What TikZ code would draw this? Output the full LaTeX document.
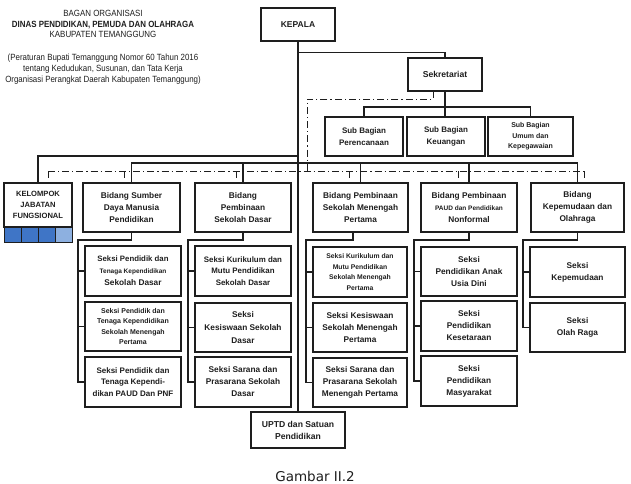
\documentclass[tikz,border=0pt]{standalone}
\usepackage{fontspec}
\setmainfont{Liberation Sans}
\newfontfamily\narrowfont[FakeStretch=0.88]{Liberation Sans}
\newfontfamily\capfont{DejaVu Sans}
\usetikzlibrary{calc}
\definecolor{ink}{HTML}{1E1E1E}
\definecolor{cellblue}{HTML}{3F75C6}
\definecolor{celllight}{HTML}{8DB0E0}
\tikzset{
  box/.style={draw=ink, line width=1.1pt, rectangle, inner sep=0pt, align=center,
    font=\bfseries\fontsize{8.3}{12}\selectfont, text=ink},
  conn/.style={draw=ink, line width=1.1pt},
  dd/.style={draw=ink, line width=0.9pt, dash pattern=on 7pt off 3pt on 1.2pt off 3pt},
  cell/.style={draw=ink, line width=0.9pt, fill=cellblue, minimum width=17pt, minimum height=15pt, inner sep=0pt},
}
\newcommand{\bx}[7][]{\node[box,minimum width={(#5-#3)*1pt},minimum height={(#6-#4)*1pt},#1] (#2) at ({(#3+#5)/2},{(#4+#6)/2}) {#7};}
\newcommand{\fz}[2]{\fontsize{#1}{#2}\selectfont}
\begin{document}
\begin{tikzpicture}[x=1pt,y=-1pt]
\useasboundingbox (0,0) rectangle (631,483);
% title
\node[align=center, font=\narrowfont\fz{9}{10.6}, text=ink] (t1) at (103,24)
  {BAGAN ORGANISASI\\{\bfseries DINAS PENDIDIKAN, PEMUDA DAN OLAHRAGA}\\KABUPATEN TEMANGGUNG};
\node[align=center, font=\narrowfont\fz{9}{11}, text=ink] (t2) at (103,69)
  {(Peraturan Bupati Temanggung Nomor 60 Tahun 2016\\tentang Kedudukan, Susunan, dan Tata Kerja\\Organisasi Perangkat Daerah Kabupaten Temanggung)};
% top
\bx[line width=2.2pt,font=\bfseries\fz{8.5}{12}]{kepala}{261}{8}{335}{41}{KEPALA}
\bx[font=\bfseries\fz{8.6}{12}]{sek}{408}{58}{482}{91}{Sekretariat}
\bx[font=\bfseries\fz{8}{12}]{sb1}{325}{117}{403}{156}{Sub Bagian\\Perencanaan}
\bx[font=\bfseries\fz{8}{12}]{sb2}{407}{117}{485}{156}{Sub Bagian\\Keuangan}
\bx[font=\bfseries\fz{7}{10.5}]{sb3}{488}{117}{573}{156}{Sub Bagian\\Umum dan\\Kepegawaian}
% bidang
\bx[font=\bfseries\fz{7.6}{11}]{kel}{4}{183}{72}{227}{KELOMPOK\\JABATAN\\FUNGSIONAL}
\node[cell] (c1) at (12.5,234.5) {};
\node[cell] (c2) at (29.5,234.5) {};
\node[cell] (c3) at (46.5,234.5) {};
\node[cell,fill=celllight] (c4) at (63.5,234.5) {};
\bx{b1}{83}{183}{180}{232}{Bidang Sumber\\Daya Manusia\\Pendidikan}
\bx{b2}{195}{183}{291}{232}{Bidang\\Pembinaan\\Sekolah Dasar}
\bx{b3}{313}{183}{408}{232}{Bidang Pembinaan\\Sekolah Menengah\\Pertama}
\bx{b4}{421}{183}{517}{232}{Bidang Pembinaan\\{\fz{6.5}{11}PAUD dan Pendidikan}\\Nonformal}
\bx{b5}{531}{183}{624}{232}{Bidang\\Kepemudaan dan\\Olahraga}
% seksi col 1
\bx{s11}{85}{246}{181}{296}{{\fz{7.8}{11}Seksi Pendidik dan}\\{\fz{6.5}{11}Tenaga Kependidikan}\\Sekolah Dasar}
\bx[font=\bfseries\fz{7}{10.4}]{s12}{85}{302}{181}{351}{Seksi Pendidik dan\\Tenaga Kependidikan\\Sekolah Menengah\\Pertama}
\bx[font=\bfseries\fz{8}{11.5}]{s13}{85}{357}{181}{407}{Seksi Pendidik dan\\Tenaga Kependi-\\dikan PAUD Dan PNF}
% col 2
\bx[font=\bfseries\fz{7.9}{11.5}]{s21}{195}{246}{291}{296}{Seksi Kurikulum dan\\Mutu Pendidikan\\Sekolah Dasar}
\bx[font=\bfseries\fz{8.3}{13}]{s22}{195}{303}{291}{352}{Seksi\\Kesiswaan Sekolah\\Dasar}
\bx{s23}{195}{357}{291}{407}{Seksi Sarana dan\\Prasarana Sekolah\\Dasar}
% col 3
\bx[font=\bfseries\fz{6.8}{10.4}]{s31}{313}{247}{407}{297}{Seksi Kurikulum dan\\Mutu Pendidikan\\Sekolah Menengah\\Pertama}
\bx[line width=1.5pt]{s32}{313}{303}{407}{352}{Seksi Kesiswaan\\Sekolah Menengah\\Pertama}
\bx[line width=1.5pt]{s33}{313}{358}{407}{407}{Seksi Sarana dan\\Prasarana Sekolah\\Menengah Pertama}
% col 4
\bx{s41}{421}{247}{517}{296}{Seksi\\Pendidikan Anak\\Usia Dini}
\bx{s42}{421}{301}{517}{351}{Seksi\\Pendidikan\\Kesetaraan}
\bx{s43}{421}{356}{517}{406}{Seksi\\Pendidikan\\Masyarakat}
% col 5
\bx{s51}{530}{247}{625}{297}{Seksi\\Kepemudaan}
\bx[line width=1.5pt]{s52}{530}{303}{625}{352}{Seksi\\Olah Raga}
% uptd
\bx[font=\bfseries\fz{8.6}{12}]{uptd}{251}{412}{345}{448}{UPTD dan Satuan\\Pendidikan}
% caption
\node[font=\capfont\fz{13.5}{16}, text=ink] (cap) at (315,476) {Gambar II.2};
% connectors
\coordinate (sbus) at (0,107);
\coordinate (kbus) at (0,156);
\coordinate (bbus) at (0,163);
\draw[conn] (kepala.south) -- (uptd.north);
\draw[conn] (kepala.south) ++(0,10) -| (sek.north);
\draw[conn] (sek.south) -- (sek.south |- sb2.north);
\draw[conn] (sb1.north) |- (sbus -| sb3.north) -- (sb3.north);
\draw[conn] (kel.north) |- (kbus -| kepala.south);
\draw[conn] (b1.north) |- (bbus -| b5.north) -- (b5.north);
\foreach \b in {b2,b3,b4} \draw[conn] (\b.north) -- (bbus -| \b.north);
% dash-dot
\coordinate (dv1) at (433,91);
\coordinate (dv2) at (433,99);
\coordinate (dv3) at (307,171);
\coordinate (dl) at (48,171);
\coordinate (dr) at (584,171);
\draw[dd] (dv1) -- (dv2) -| (dv3);
\draw[dd] (dl) -- (dr);
\foreach \x in {48,124,236,349,458,584} \draw[dd] (\x,171) -- (\x,179);
% seksi brackets
\draw[conn] (b1.south) |- (78,240) |- (s13.west);
\foreach \s in {s11,s12} \draw[conn] (\s.west) -- (\s.west -| 78,0);
\draw[conn] (b2.south) |- (188,240) |- (s23.west);
\foreach \s in {s21,s22} \draw[conn] (\s.west) -- (\s.west -| 188,0);
\draw[conn] ([xshift=-7.5pt]b3.south) |- (306,240) |- (s33.west);
\foreach \s in {s31,s32} \draw[conn] (\s.west) -- (\s.west -| 306,0);
\draw[conn] (b4.south) |- (414,240) |- (s43.west);
\foreach \s in {s41,s42} \draw[conn] (\s.west) -- (\s.west -| 414,0);
\draw[conn] (b5.south) |- (523,240) |- (s52.west);
\draw[conn] (s51.west) -- (s51.west -| 523,0);
\end{tikzpicture}
\end{document}
